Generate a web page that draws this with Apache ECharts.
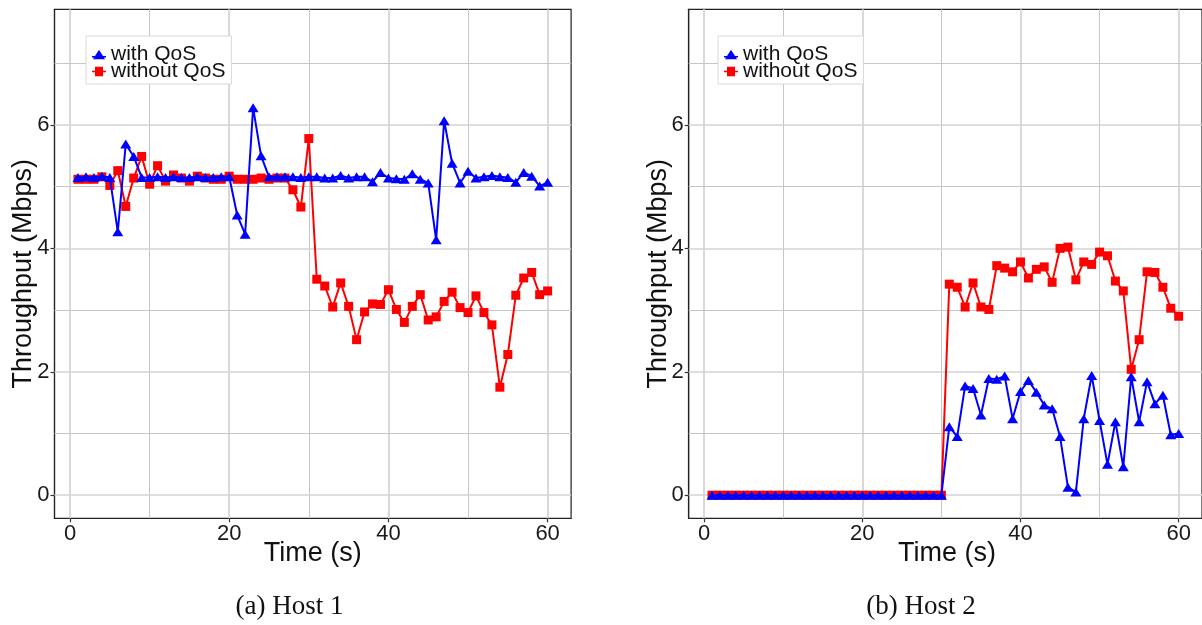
<!DOCTYPE html>
<html>
<head>
<meta charset="utf-8">
<script src="https://cdn.jsdelivr.net/npm/echarts@6/dist/echarts.min.js"></script>
<style>
  html, body { margin: 0; padding: 0; background: #ffffff; }
  #chart { width: 1202px; height: 625px; }
</style>
</head>
<body>
<div id="chart"></div>
<script>
// Time stamps of each throughput sample (seconds)
const timeSec = [1, 2, 3, 4, 5, 6, 7, 8, 9, 10, 11, 12, 13, 14, 15, 16, 17, 18, 19, 20,
  21, 22, 23, 24, 25, 26, 27, 28, 29, 30, 31, 32, 33, 34, 35, 36, 37, 38, 39, 40,
  41, 42, 43, 44, 45, 46, 47, 48, 49, 50, 51, 52, 53, 54, 55, 56, 57, 58, 59, 60];

// Host 1 throughput (Mbps)
const host1WithQoS = [5.15, 5.16, 5.15, 5.17, 5.15, 4.27, 5.69, 5.49, 5.15, 5.15,
  5.16, 5.15, 5.16, 5.15, 5.15, 5.16, 5.15, 5.15, 5.16, 5.16,
  4.54, 4.23, 6.28, 5.50, 5.16, 5.16, 5.16, 5.16, 5.15, 5.16,
  5.16, 5.14, 5.14, 5.18, 5.14, 5.16, 5.16, 5.08, 5.23, 5.14,
  5.13, 5.12, 5.21, 5.12, 5.06, 4.14, 6.07, 5.38, 5.06, 5.25,
  5.14, 5.16, 5.18, 5.16, 5.15, 5.07, 5.23, 5.17, 5.01, 5.07];
const host1WithoutQoS = [5.12, 5.12, 5.12, 5.16, 5.02, 5.26, 4.68, 5.14, 5.49, 5.04,
  5.34, 5.09, 5.19, 5.14, 5.09, 5.17, 5.14, 5.12, 5.12, 5.17,
  5.12, 5.12, 5.12, 5.14, 5.12, 5.14, 5.14, 4.95, 4.67, 5.78,
  3.50, 3.39, 3.05, 3.44, 3.06, 2.52, 2.97, 3.10, 3.09, 3.33,
  3.01, 2.80, 3.06, 3.25, 2.84, 2.89, 3.14, 3.29, 3.04, 2.96,
  3.23, 2.96, 2.76, 1.75, 2.28, 3.24, 3.52, 3.61, 3.25, 3.31];

// Host 2 throughput (Mbps)
const host2WithQoS = [0, 0, 0, 0, 0, 0, 0, 0, 0, 0,
  0, 0, 0, 0, 0, 0, 0, 0, 0, 0,
  0, 0, 0, 0, 0, 0, 0, 0, 0, 0,
  1.11, 0.95, 1.77, 1.73, 1.30, 1.89, 1.88, 1.93, 1.24, 1.68,
  1.86, 1.67, 1.46, 1.40, 0.95, 0.13, 0.05, 1.24, 1.94, 1.21,
  0.50, 1.19, 0.46, 1.92, 1.19, 1.84, 1.48, 1.62, 0.98, 1.00];
const host2WithoutQoS = [0, 0, 0, 0, 0, 0, 0, 0, 0, 0,
  0, 0, 0, 0, 0, 0, 0, 0, 0, 0,
  0, 0, 0, 0, 0, 0, 0, 0, 0, 0,
  3.42, 3.37, 3.05, 3.44, 3.05, 3.01, 3.72, 3.68, 3.62, 3.78,
  3.52, 3.66, 3.70, 3.45, 4.00, 4.02, 3.49, 3.78, 3.74, 3.94,
  3.88, 3.47, 3.31, 2.04, 2.52, 3.62, 3.61, 3.37, 3.03, 2.90];

// Axis ticks
const xTicks = [0, 20, 40, 60];
const xMinorTicks = [10, 30, 50];
const yTicks = [0, 2, 4, 6];
const yMinorTicks = [1, 3, 5, 7];

const seriesNames = ['with QoS', 'without QoS'];
const captions = ['(a) Host 1', '(b) Host 2'];

const SANS = '"Liberation Sans", Arial, Helvetica, sans-serif';
const SERIF = '"Liberation Serif", "Times New Roman", serif';
const X_MIN = -1.95, X_MAX = 62.95, Y_MIN = -0.375, Y_MAX = 7.875;
const GRID_TOP = 9.3, GRID_H = 509, GRID_W = 516.6;
const BLUE = '#0000ff', RED = '#ff0000';

// Legend keys: a short line segment with the series marker on it
const ICON_TRIANGLE = 'path://M0,6.2L3,6.2L7,0L11,6.2L14,6.2L14,7.8L12,7.8L13,9.5L1,9.5L2,7.8L0,7.8Z';
const ICON_SQUARE = 'path://M0,4L3,4L3,0L11,0L11,4L14,4L14,5.6L11,5.6L11,9.5L3,9.5L3,5.6L0,5.6Z';

const panels = [
  { left: 54.5, withQoS: host1WithQoS, withoutQoS: host1WithoutQoS, legendLeft: 86 },
  { left: 688.7, withQoS: host2WithQoS, withoutQoS: host2WithoutQoS, legendLeft: 718 }
];

const pairs = (vals) => timeSec.map((t, i) => [t, vals[i]]);

const grids = [], xAxes = [], yAxes = [], series = [], legends = [], graphics = [];

panels.forEach((p, i) => {
  grids.push({
    left: p.left, top: GRID_TOP, width: GRID_W, height: GRID_H,
    show: true, backgroundColor: '#ffffff', borderColor: '#222222', borderWidth: 1.2
  });
  xAxes.push({
    gridIndex: i, type: 'value', min: X_MIN, max: X_MAX,
    axisLine: { show: true, onZero: false, lineStyle: { color: '#222222', width: 1.2 } },
    axisTick: { show: true, customValues: xTicks, length: 4, lineStyle: { color: '#333333', width: 1.2 } },
    axisLabel: { customValues: xTicks, fontSize: 22, fontFamily: SANS, color: '#1a1a1a', margin: 5 },
    splitLine: { show: false }
  });
  yAxes.push({
    gridIndex: i, type: 'value', min: Y_MIN, max: Y_MAX,
    axisLine: { show: true, onZero: false, lineStyle: { color: '#222222', width: 1.2 } },
    axisTick: { show: true, customValues: yTicks, length: 4, lineStyle: { color: '#333333', width: 1.2 } },
    axisLabel: { customValues: yTicks, fontSize: 22, fontFamily: SANS, color: '#1a1a1a', margin: 5 },
    splitLine: { show: false }
  });

  // panel grid lines (major and minor)
  const major = { color: '#d3d3d3', width: 1.7, type: 'solid' };
  const minor = { color: '#c6c6c6', width: 1, type: 'solid' };
  const gridLines = [];
  xTicks.forEach(v => gridLines.push({ xAxis: v, lineStyle: major }));
  xMinorTicks.forEach(v => gridLines.push({ xAxis: v, lineStyle: minor }));
  yTicks.forEach(v => gridLines.push({ yAxis: v, lineStyle: major }));
  yMinorTicks.forEach(v => gridLines.push({ yAxis: v, lineStyle: minor }));
  series.push({
    type: 'line', name: 'grid' + i, xAxisIndex: i, yAxisIndex: i, data: [],
    silent: true, z: 1,
    markLine: {
      z: 1, silent: true, symbol: ['none', 'none'], animation: false,
      label: { show: false }, emphasis: { disabled: true },
      lineStyle: { type: 'solid' }, data: gridLines
    }
  });

  series.push({
    type: 'line', name: seriesNames[1], xAxisIndex: i, yAxisIndex: i,
    data: pairs(p.withoutQoS), symbol: 'rect', symbolSize: 9, showSymbol: true,
    lineStyle: { color: RED, width: 2 }, itemStyle: { color: RED }, z: 2
  });
  series.push({
    type: 'line', name: seriesNames[0], xAxisIndex: i, yAxisIndex: i,
    data: pairs(p.withQoS), symbol: 'triangle', symbolSize: [11, 9], showSymbol: true,
    lineStyle: { color: BLUE, width: 2 }, itemStyle: { color: BLUE }, z: 3
  });

  legends.push({
    orient: 'vertical', left: p.legendLeft, top: 36,
    data: [
      { name: seriesNames[0], icon: ICON_TRIANGLE },
      { name: seriesNames[1], icon: ICON_SQUARE }
    ],
    itemWidth: 14, itemHeight: 12, itemGap: -4,
    padding: [8, 6, 2, 6], backgroundColor: '#ffffff',
    borderColor: '#d9d9d9', borderWidth: 1, selectedMode: false,
    textStyle: { fontSize: 21, fontFamily: SANS, color: '#111111' }
  });

  const cx = p.left + GRID_W / 2;
  graphics.push({
    type: 'text', x: p.left - 30.5, y: GRID_TOP + GRID_H / 2 + 10, rotation: Math.PI / 2,
    style: { text: 'Throughput (Mbps)', fontSize: 27, fontFamily: SANS, fill: '#111111',
      align: 'center', verticalAlign: 'middle' }
  });
  graphics.push({
    type: 'text', x: cx, y: 554,
    style: { text: 'Time (s)', fontSize: 27, fontFamily: SANS, fill: '#111111',
      align: 'center', verticalAlign: 'middle' }
  });
  graphics.push({
    type: 'text', x: i === 0 ? 289.5 : 921, y: 607,
    style: { text: captions[i], fontSize: 27, fontFamily: SERIF, fill: '#111111',
      align: 'center', verticalAlign: 'middle' }
  });
});

const chart = echarts.init(document.getElementById('chart'), null, { renderer: 'canvas' });
chart.setOption({
  animation: false,
  backgroundColor: '#ffffff',
  grid: grids,
  xAxis: xAxes,
  yAxis: yAxes,
  legend: legends,
  series: series,
  graphic: graphics
});
</script>
</body>
</html>
